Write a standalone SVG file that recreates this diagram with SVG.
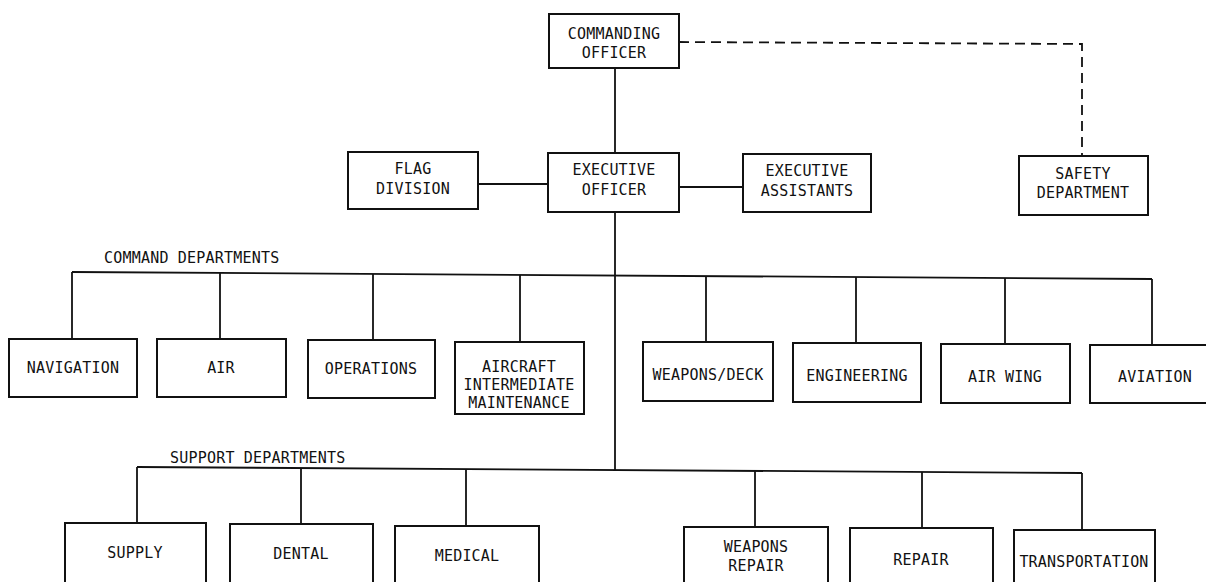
<svg xmlns="http://www.w3.org/2000/svg" width="1206" height="582" viewBox="0 0 1206 582">
  <style>
    .box { fill: #fff; stroke: #111; stroke-width: 2; }
    .ln { fill: none; stroke: #111; stroke-width: 1.8; }
    .dash { fill: none; stroke: #111; stroke-width: 1.8; stroke-dasharray: 10 6; }
    text { font-family: "DejaVu Sans Mono", "Liberation Mono", monospace; font-size: 15px; fill: #111; text-anchor: middle; letter-spacing: 0.2px; }
    .lbl { text-anchor: start; }
  </style>
  <rect width="1206" height="582" fill="#fff"/>

  <!-- connectors -->
  <g id="connectors">
    <line class="ln" x1="615" y1="68" x2="615" y2="153"/>
    <polyline class="dash" points="679,42 1082,44 1082,156"/>
    <line class="ln" x1="478" y1="184" x2="548" y2="184"/>
    <line class="ln" x1="679" y1="187" x2="743" y2="187"/>
    <line class="ln" x1="615" y1="212" x2="615" y2="470"/>
    <!-- command departments bus -->
    <line class="ln" x1="72" y1="272" x2="1152" y2="279"/>
    <line class="ln" x1="72" y1="272" x2="72" y2="339"/>
    <line class="ln" x1="220" y1="273" x2="220" y2="339"/>
    <line class="ln" x1="373" y1="274" x2="373" y2="340"/>
    <line class="ln" x1="520" y1="275" x2="520" y2="342"/>
    <line class="ln" x1="706" y1="276" x2="706" y2="342"/>
    <line class="ln" x1="856" y1="277" x2="856" y2="343"/>
    <line class="ln" x1="1005" y1="278" x2="1005" y2="344"/>
    <line class="ln" x1="1152" y1="279" x2="1152" y2="345"/>
    <!-- support departments bus -->
    <line class="ln" x1="137" y1="467" x2="1082" y2="473"/>
    <line class="ln" x1="137" y1="467" x2="137" y2="523"/>
    <line class="ln" x1="301" y1="468" x2="301" y2="524"/>
    <line class="ln" x1="466" y1="469" x2="466" y2="526"/>
    <line class="ln" x1="755" y1="471" x2="755" y2="527"/>
    <line class="ln" x1="922" y1="472" x2="922" y2="528"/>
    <line class="ln" x1="1082" y1="473" x2="1082" y2="530"/>
  </g>

  <text class="lbl" x="104" y="263">COMMAND DEPARTMENTS</text>
  <text class="lbl" x="170" y="463">SUPPORT DEPARTMENTS</text>

  <g id="commanding-officer">
    <rect class="box" x="549" y="14" width="130" height="54"/>
    <text x="614" y="39">COMMANDING</text>
    <text x="614" y="58">OFFICER</text>
  </g>
  <g id="flag-division">
    <rect class="box" x="348" y="152" width="130" height="57"/>
    <text x="413" y="174">FLAG</text>
    <text x="413" y="194">DIVISION</text>
  </g>
  <g id="executive-officer">
    <rect class="box" x="548" y="153" width="131" height="59"/>
    <text x="614" y="175">EXECUTIVE</text>
    <text x="614" y="195">OFFICER</text>
  </g>
  <g id="executive-assistants">
    <rect class="box" x="743" y="154" width="128" height="58"/>
    <text x="807" y="176">EXECUTIVE</text>
    <text x="807" y="196">ASSISTANTS</text>
  </g>
  <g id="safety-department">
    <rect class="box" x="1019" y="156" width="129" height="59"/>
    <text x="1083" y="179">SAFETY</text>
    <text x="1083" y="198">DEPARTMENT</text>
  </g>

  <g id="navigation">
    <rect class="box" x="9" y="339" width="128" height="58"/>
    <text x="73" y="373">NAVIGATION</text>
  </g>
  <g id="air">
    <rect class="box" x="157" y="339" width="129" height="58"/>
    <text x="221" y="373">AIR</text>
  </g>
  <g id="operations">
    <rect class="box" x="308" y="340" width="127" height="58"/>
    <text x="371" y="374">OPERATIONS</text>
  </g>
  <g id="aircraft-intermediate-maintenance">
    <rect class="box" x="455" y="342" width="129" height="72"/>
    <text x="519" y="372">AIRCRAFT</text>
    <text x="519" y="390">INTERMEDIATE</text>
    <text x="519" y="408">MAINTENANCE</text>
  </g>
  <g id="weapons-deck">
    <rect class="box" x="643" y="342" width="130" height="59"/>
    <text x="708" y="380">WEAPONS/DECK</text>
  </g>
  <g id="engineering">
    <rect class="box" x="793" y="343" width="128" height="59"/>
    <text x="857" y="381">ENGINEERING</text>
  </g>
  <g id="air-wing">
    <rect class="box" x="941" y="344" width="129" height="59"/>
    <text x="1005" y="382">AIR WING</text>
  </g>
  <g id="aviation">
    <rect class="box" x="1090" y="345" width="130" height="58"/>
    <text x="1155" y="382">AVIATION</text>
  </g>

  <g id="supply">
    <rect class="box" x="65" y="523" width="141" height="80"/>
    <text x="135" y="558">SUPPLY</text>
  </g>
  <g id="dental">
    <rect class="box" x="230" y="524" width="143" height="80"/>
    <text x="301" y="559">DENTAL</text>
  </g>
  <g id="medical">
    <rect class="box" x="395" y="526" width="144" height="80"/>
    <text x="467" y="561">MEDICAL</text>
  </g>
  <g id="weapons-repair">
    <rect class="box" x="684" y="527" width="144" height="80"/>
    <text x="756" y="552">WEAPONS</text>
    <text x="756" y="571">REPAIR</text>
  </g>
  <g id="repair">
    <rect class="box" x="850" y="528" width="143" height="80"/>
    <text x="921" y="565">REPAIR</text>
  </g>
  <g id="transportation">
    <rect class="box" x="1014" y="530" width="141" height="80"/>
    <text x="1084" y="567">TRANSPORTATION</text>
  </g>
</svg>
